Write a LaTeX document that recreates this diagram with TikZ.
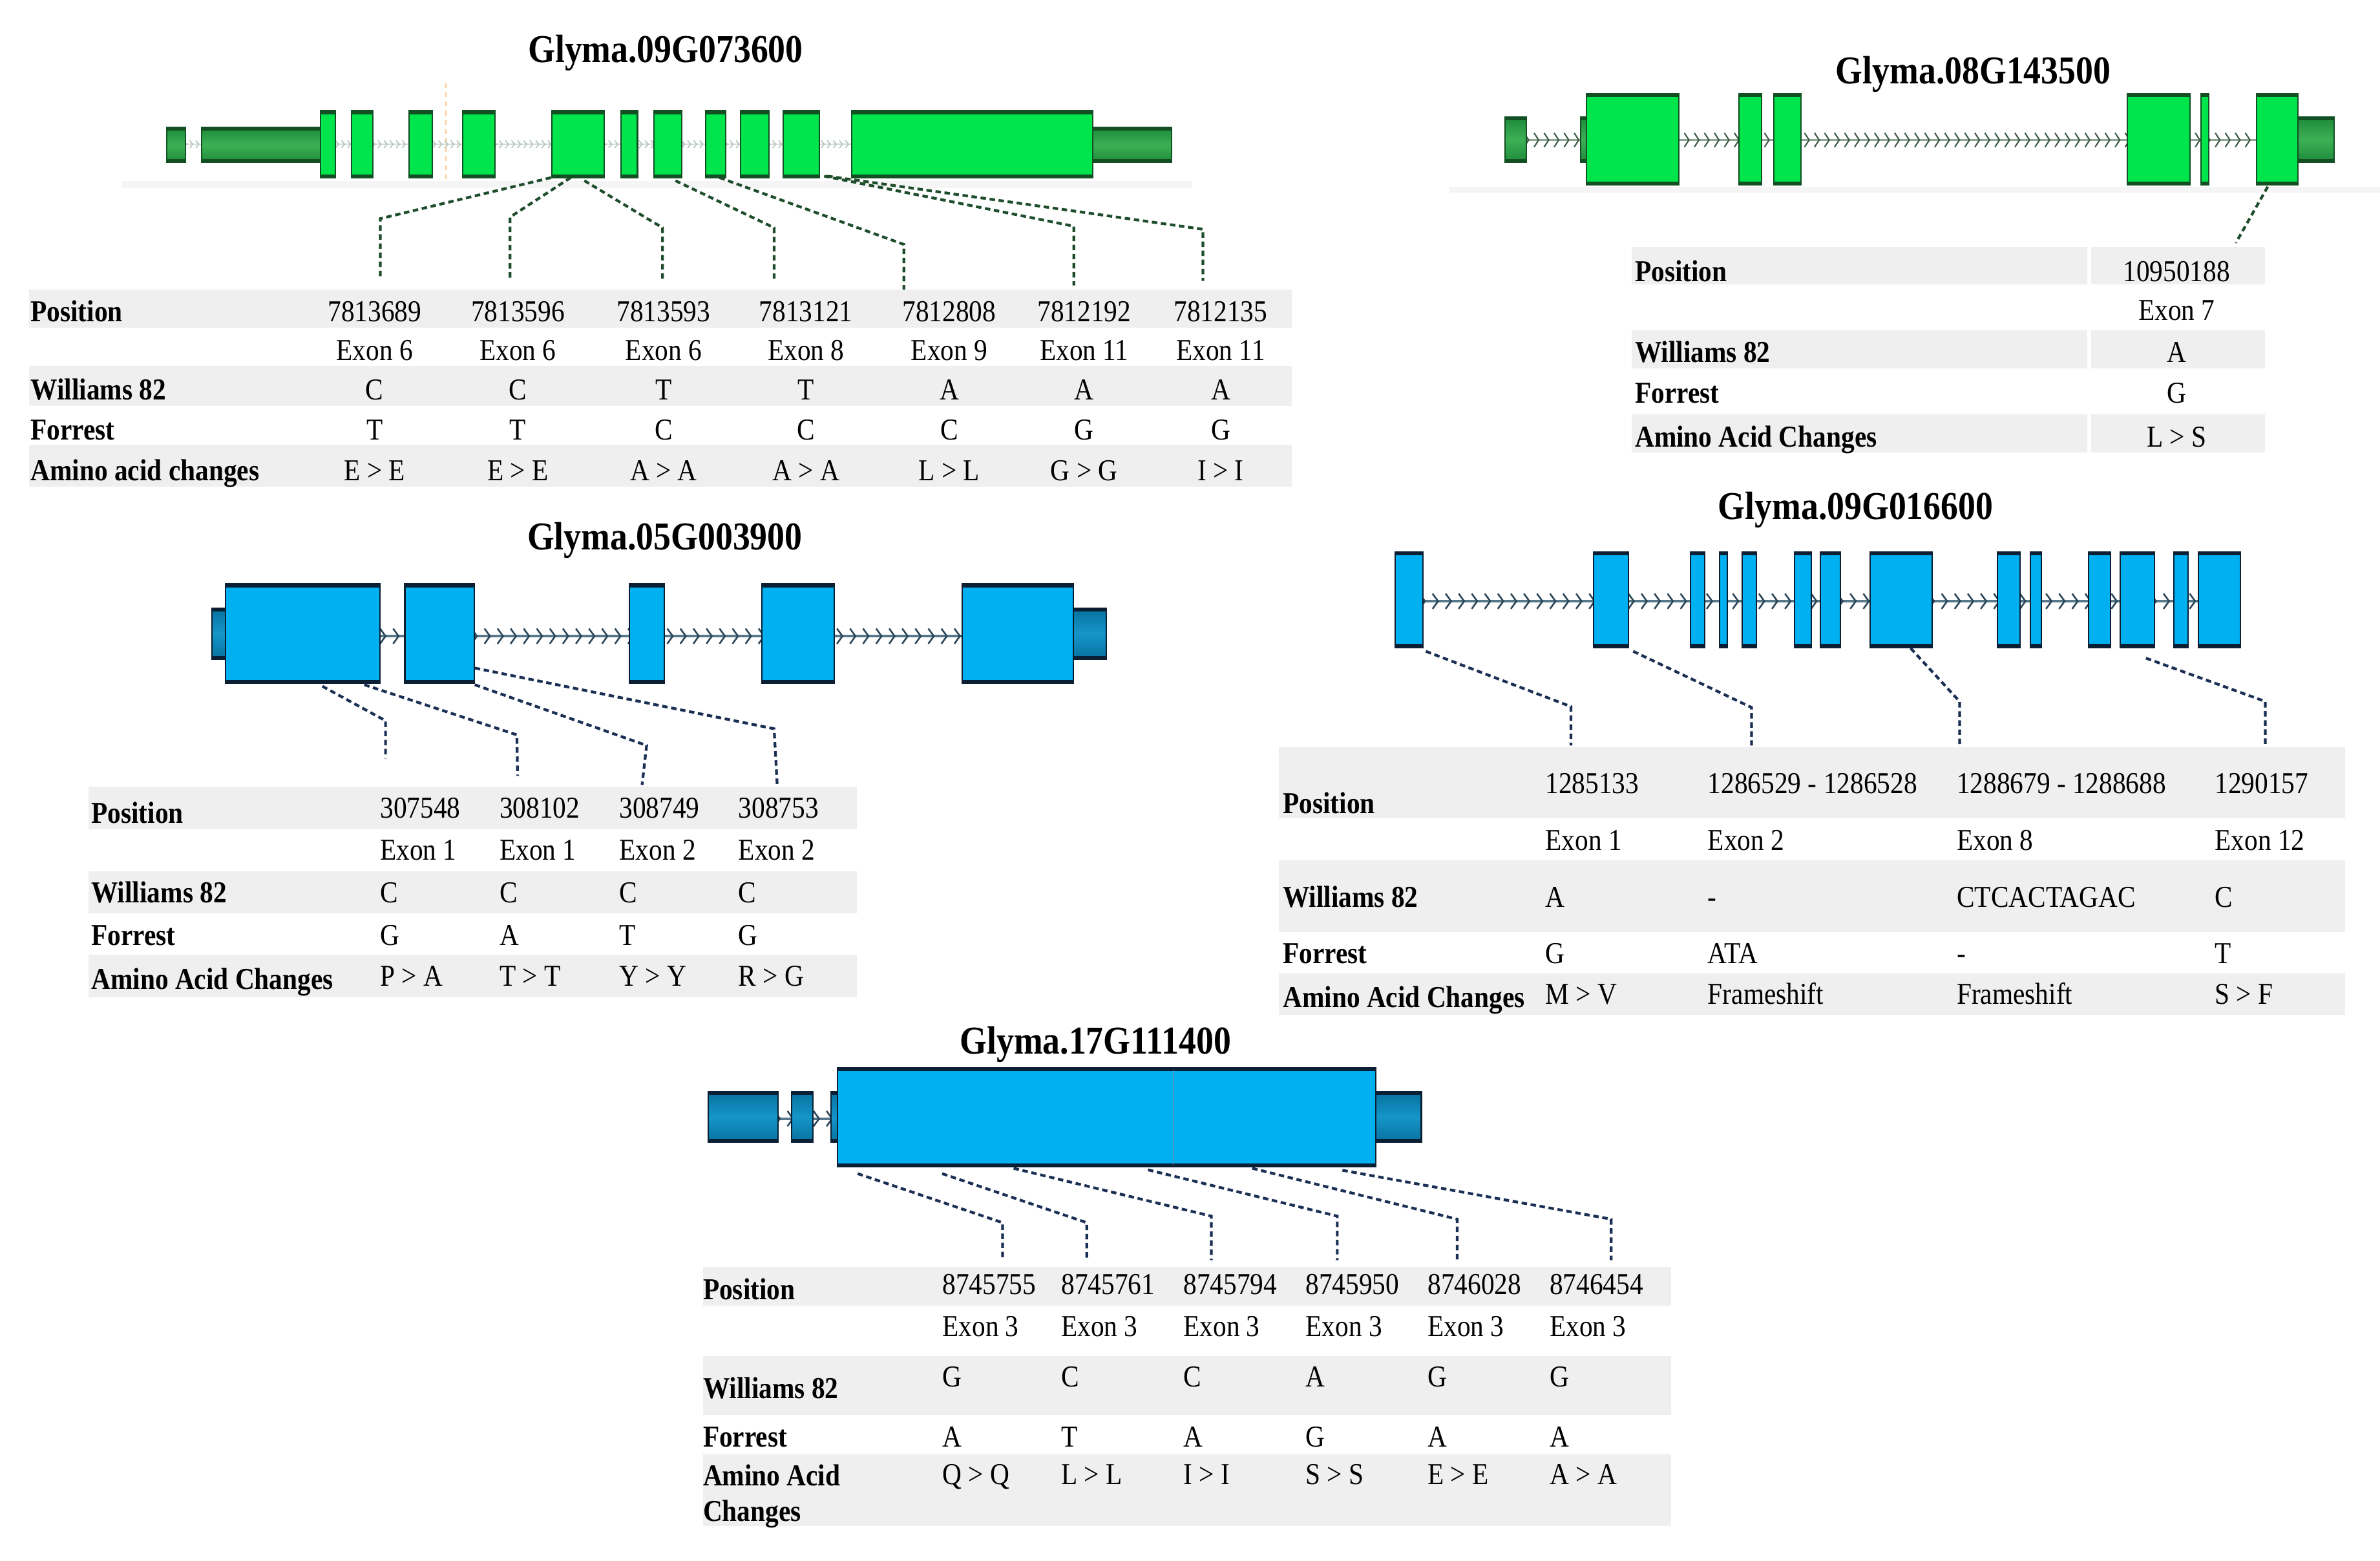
\documentclass[tikz,border=0pt]{standalone}
\usepackage{fontspec}
\setmainfont{Liberation Serif}[FakeStretch=0.88]
\usetikzlibrary{decorations.markings}
\definecolor{gfillc}{HTML}{00E44C}
\definecolor{gdarkc}{HTML}{124F22}
\definecolor{gutrc}{HTML}{1D8A3A}
\definecolor{gutrm}{HTML}{3DB055}
\definecolor{bfillc}{HTML}{00B0F0}
\definecolor{bdarkc}{HTML}{0A1F33}
\definecolor{butrc}{HTML}{07719F}
\definecolor{butrm}{HTML}{1595C8}
\definecolor{gconn}{HTML}{1E4D2B}
\definecolor{bconn}{HTML}{1B2F55}
\definecolor{bandc}{HTML}{EFEFEF}
\definecolor{chevb}{HTML}{2A4658}
\definecolor{lineb}{HTML}{56788A}
\definecolor{chevg}{HTML}{3D5A45}
\definecolor{lineg}{HTML}{8FA595}
\definecolor{chevl}{HTML}{A9C2AE}
\newcommand\exbox[6]{%
  \path[#5] (#1,#3) rectangle (#2,#4);
  \draw[#6, line width=0.9pt] (#1,#3) rectangle (#2,#4);
  \draw[#6, line width=2.2pt] (#1,#3+1.1) -- (#2,#3+1.1) (#1,#4-1.1) -- (#2,#4-1.1);
}
\tikzset{
  gex/.style={fill=gfillc},
  gutr/.style={top color=gutrc, bottom color=gutrc, middle color=gutrm},
  bex/.style={fill=bfillc},
  butr/.style={top color=butrc, bottom color=butrc, middle color=butrm},
  gdash/.style={draw=gconn, dash pattern=on 3.6pt off 2.4pt, line width=1.8pt},
  bdash/.style={draw=bconn, dash pattern=on 3.6pt off 2.4pt, line width=1.8pt},
  intronL/.style={draw=gray!30, line width=1pt, postaction={decorate, decoration={markings,
     mark=between positions 0 and 1 step 4pt with {\draw[chevl, line width=0.6pt] (-1pt,-2.5pt) -- (1pt,0pt) -- (-1pt,2.5pt);}}}},
  intronG/.style={draw=lineg, line width=1.4pt, postaction={decorate, decoration={markings,
     mark=between positions 0 and 1 step 6.6pt with {\draw[chevg, line width=0.9pt] (-1.5pt,-4.6pt) -- (1.5pt,0pt) -- (-1.5pt,4.6pt);}}}},
  intronB/.style={draw=lineb, line width=1.8pt, postaction={decorate, decoration={markings,
     mark=between positions 0 and 1 step 8.6pt with {\draw[chevb, line width=1.1pt] (-1.8pt,-5pt) -- (1.8pt,0pt) -- (-1.8pt,5pt);}}}},
  lab/.style={anchor=base west, inner sep=0pt, font=\fontsize{20}{24}\selectfont\bfseries},
  valc/.style={anchor=base, inner sep=0pt, font=\fontsize{20}{24}\selectfont},
  vall/.style={anchor=base west, inner sep=0pt, font=\fontsize{20}{24}\selectfont},
  ttl/.style={anchor=base, inner sep=0pt, font=\fontsize{26}{30}\selectfont\bfseries},
}
\begin{document}
\begin{tikzpicture}[x=1pt,y=-1pt]
\useasboundingbox (0,0) rectangle (1568,1028);
\fill[white] (0,0) rectangle (1568,1028);

%% ================= Panel 1: Glyma.09G073600 =================
\node[ttl] (title1) at (438.5,41) {Glyma.09G073600};
\fill[gray!8] (80,119) rectangle (785,124);
\draw[orange!45, dashed, line width=0.6pt] (293.7,55) -- (293.7,120);
\draw[intronL] (122,95) -- (720,95);
\exbox{110}{122}{84}{107}{gutr}{gdarkc}
\exbox{133}{211}{84}{107}{gutr}{gdarkc}
\exbox{720}{772}{84}{107}{gutr}{gdarkc}
\foreach \a/\b in {211/221, 231.6/245.6, 269.5/285, 305/326, 363.7/398, 409/420, 431/449, 465/478, 488/506.6, 516/540, 561/720}
  {\exbox{\a}{\b}{73}{117}{gex}{gdarkc}}
% connectors
\foreach \i/\sx/\sy/\kx/\ky/\ey in {1/363/117/250.5/144/182, 2/376/117/336/143/184, 3/385/119/436.5/150/185, 4/445/119/510/150/185, 5/474/117/595.5/161/198, 6/543/116/707.5/149/188, 7/545/116/792.5/151/185}{
  \coordinate (ga\i s) at (\sx,\sy);
  \coordinate (ga\i k) at (\kx,\ky);
  \coordinate (ga\i e) at (\kx,\ey);
  \draw[gdash] (ga\i s) -- (ga\i k) -- (ga\i e);
}
% table 1
\fill[bandc] (19,190.8) rectangle (851,215.7);
\fill[bandc] (19,241) rectangle (851,267.5);
\fill[bandc] (19,293) rectangle (851,320.6);
\node[lab] (ta-pos) at (20,211.6) {Position};
\node[lab] (ta-w82) at (20,263.4) {Williams 82};
\node[lab] (ta-for) at (20,289.6) {Forrest};
\node[lab] (ta-aac) at (20,316.6) {Amino acid changes};
\foreach \cx/\pa/\pb/\pc/\pd/\pe [count=\i] in {
246.8/7813689/Exon 6/C/T/E > E,
341.2/7813596/Exon 6/C/T/E > E,
437.2/7813593/Exon 6/T/C/A > A,
531/7813121/Exon 8/T/C/A > A,
625.4/7812808/Exon 9/A/C/L > L,
714.3/7812192/Exon 11/A/G/G > G,
804.2/7812135/Exon 11/A/G/I > I}{
  \node[valc] (ta\i p) at (\cx,211.6) {\pa};
  \node[valc] (ta\i x) at (\cx,237.2) {\pb};
  \node[valc] (ta\i w) at (\cx,263.4) {\pc};
  \node[valc] (ta\i f) at (\cx,289.6) {\pd};
  \node[valc] (ta\i a) at (\cx,316.6) {\pe};
}

%% ================= Panel 2: Glyma.08G143500 =================
\node[ttl] (title2) at (1300,55.3) {Glyma.08G143500};
\fill[gray!8] (955,123) rectangle (1568,127);
\draw[intronG] (1005.6,92.2) -- (1487,92.2);
\exbox{991.5}{1005.6}{77}{107}{gutr}{gdarkc}
\exbox{1041.5}{1046}{77}{107}{gutr}{gdarkc}
\exbox{1514}{1537.7}{77}{107}{gutr}{gdarkc}
\foreach \a/\b in {1045/1106, 1145.6/1160.5, 1168.6/1186.5, 1401.5/1443, 1450/1455, 1486.6/1514}
  {\exbox{\a}{\b}{61.8}{121.8}{gex}{gdarkc}}
\coordinate (gb1s) at (1494,123);
\coordinate (gb1e) at (1473,160);
\draw[gdash] (gb1s) -- (gb1e);
% table 2
\foreach \ya/\yb in {162.5/187.3, 217.4/242.7, 272.9/298}{
  \fill[bandc] (1075,\ya) rectangle (1375,\yb);
  \fill[bandc] (1377.5,\ya) rectangle (1492,\yb);
}
\node[lab] (tb-pos) at (1077,185.4) {Position};
\node[lab] (tb-w82) at (1077,238.6) {Williams 82};
\node[lab] (tb-for) at (1077,265.6) {Forrest};
\node[lab] (tb-aac) at (1077,294.6) {Amino Acid Changes};
\node[valc] (tb1p) at (1434,185.4) {10950188};
\node[valc] (tb1x) at (1434,210.9) {Exon 7};
\node[valc] (tb1w) at (1434,238.6) {A};
\node[valc] (tb1f) at (1434,265.6) {G};
\node[valc] (tb1a) at (1434,294.6) {L > S};

%% ================= Panel 3: Glyma.05G003900 =================
\node[ttl] (title3) at (438,362) {Glyma.05G003900};
\draw[intronB] (149,419) -- (707,419);
\exbox{139.5}{149.4}{400.6}{434.2}{butr}{bdarkc}
\exbox{707}{729}{400.6}{434.2}{butr}{bdarkc}
\foreach \a/\b in {148.6/250.2, 266.7/312.4, 414.8/437.6, 501.8/549.5, 633.8/707}
  {\exbox{\a}{\b}{384.6}{450}{bex}{bdarkc}}
\foreach \i/\sx/\sy/\kx/\ky/\ex/\ey in {1/212.4/452/254/474.7/254/499.5, 2/240/451/340.5/484/341/511, 3/312.8/451/426/491/423/517, 4/312.8/440/510/480/512/516.5}{
  \coordinate (gc\i s) at (\sx,\sy);
  \coordinate (gc\i k) at (\kx,\ky);
  \coordinate (gc\i e) at (\ex,\ey);
  \draw[bdash] (gc\i s) -- (gc\i k) -- (gc\i e);
}
% table 3
\fill[bandc] (58.5,518) rectangle (564.5,546.3);
\fill[bandc] (58.5,574) rectangle (564.5,601.6);
\fill[bandc] (58.5,629) rectangle (564.5,657);
\node[lab] (tc-pos) at (60,542) {Position};
\node[lab] (tc-w82) at (60,594.6) {Williams 82};
\node[lab] (tc-for) at (60,622.6) {Forrest};
\node[lab] (tc-aac) at (60,651.6) {Amino Acid Changes};
\foreach \cx/\pa/\pb/\pc/\pd/\pe [count=\i] in {
250.3/307548/Exon 1/C/G/P > A,
329/308102/Exon 1/C/A/T > T,
407.9/308749/Exon 2/C/T/Y > Y,
486.4/308753/Exon 2/C/G/R > G}{
  \node[vall] (tc\i p) at (\cx,538.6) {\pa};
  \node[vall] (tc\i x) at (\cx,566.4) {\pb};
  \node[vall] (tc\i w) at (\cx,594.6) {\pc};
  \node[vall] (tc\i f) at (\cx,622.6) {\pd};
  \node[vall] (tc\i a) at (\cx,649.6) {\pe};
}

%% ================= Panel 4: Glyma.09G016600 =================
\node[ttl] (title4) at (1222.5,342) {Glyma.09G016600};
\draw[intronB] (937,396) -- (1449,396);
\foreach \a/\b in {919/937.5, 1050/1073, 1113.7/1123, 1132.8/1138, 1147.7/1157, 1182.4/1193.4, 1199.4/1212.6, 1232.2/1272.9, 1316/1331, 1337.5/1345, 1376/1390.6, 1397/1419.4, 1432.3/1441.6, 1448.2/1475.9}
  {\exbox{\a}{\b}{363.6}{426.4}{bex}{bdarkc}}
\foreach \i/\sx/\sy/\kx/\ky/\ey in {1/939.4/429/1035/465.4/491, 2/1076/429/1154/466/491, 3/1258.8/427/1291/462/491, 4/1413.8/433.5/1492.4/462/491}{
  \coordinate (gd\i s) at (\sx,\sy);
  \coordinate (gd\i k) at (\kx,\ky);
  \coordinate (gd\i e) at (\kx,\ey);
  \draw[bdash] (gd\i s) -- (gd\i k) -- (gd\i e);
}
% table 4
\fill[bandc] (842.7,492) rectangle (1545,539);
\fill[bandc] (842.7,566.5) rectangle (1545,613.7);
\fill[bandc] (842.7,641) rectangle (1545,668.6);
\node[lab] (td-pos) at (845,535.9) {Position};
\node[lab] (td-w82) at (845,597.6) {Williams 82};
\node[lab] (td-for) at (845,634.6) {Forrest};
\node[lab] (td-aac) at (845,663.6) {Amino Acid Changes};
\foreach \cx/\pa/\pb/\pc/\pd/\pe [count=\i] in {
1018/1285133/Exon 1/A/G/M > V,
1125/1286529 - 1286528/Exon 2/-/ATA/Frameshift,
1289/1288679 - 1288688/Exon 8/CTCACTAGAC/-/Frameshift,
1459/1290157/Exon 12/C/T/S > F}{
  \node[vall] (td\i p) at (\cx,522.4) {\pa};
  \node[vall] (td\i x) at (\cx,560) {\pb};
  \node[vall] (td\i w) at (\cx,597.6) {\pc};
  \node[vall] (td\i f) at (\cx,634.6) {\pd};
  \node[vall] (td\i a) at (\cx,661.4) {\pe};
}

%% ================= Panel 5: Glyma.17G111400 =================
\node[ttl] (title5) at (721.7,694) {Glyma.17G111400};
\draw[intronB] (512,736.8) -- (552,736.8);
\exbox{466.6}{512.4}{719.2}{752.4}{butr}{bdarkc}
\exbox{521.7}{535.6}{719.2}{752.4}{butr}{bdarkc}
\exbox{547.4}{551.7}{719.2}{752.4}{butr}{bdarkc}
\exbox{906.4}{936.4}{719.2}{752.4}{butr}{bdarkc}
\exbox{551.7}{906.4}{703.4}{768.4}{bex}{bdarkc}
\draw[bdarkc!55, line width=0.5pt] (773.3,704.5) -- (773.3,767.3);
\foreach \i/\sx/\sy/\kx/\ky in {1/565/773/660.5/805.3, 2/620.7/773/716/805.3, 3/667.8/769.5/798/801, 4/756.3/770.5/881/801, 5/825/769.5/960/803, 6/884.4/770.8/1061.5/803}{
  \coordinate (ge\i s) at (\sx,\sy);
  \coordinate (ge\i k) at (\kx,\ky);
  \coordinate (ge\i e) at (\kx,830);
  \draw[bdash] (ge\i s) -- (ge\i k) -- (ge\i e);
}
% table 5
\fill[bandc] (463,834.4) rectangle (1101,860);
\fill[bandc] (463,893) rectangle (1101,932);
\fill[bandc] (463,958) rectangle (1101,1005);
\node[lab] (te-pos) at (463,855.9) {Position};
\node[lab] (te-w82) at (463,921.2) {Williams 82};
\node[lab] (te-for) at (463,953.1) {Forrest};
\node[lab] (te-aac) at (463,978.6) {Amino Acid};
\node[lab] (te-chg) at (463,1002) {Changes};
\foreach \cx/\pa/\pb/\pc/\pd/\pe [count=\i] in {
620.7/8745755/Exon 3/G/A/Q > Q,
699/8745761/Exon 3/C/T/L > L,
779.5/8745794/Exon 3/C/A/I > I,
860/8745950/Exon 3/A/G/S > S,
940.4/8746028/Exon 3/G/A/E > E,
1020.8/8746454/Exon 3/G/A/A > A}{
  \node[vall] (te\i p) at (\cx,852.6) {\pa};
  \node[vall] (te\i x) at (\cx,880) {\pb};
  \node[vall] (te\i w) at (\cx,913.4) {\pc};
  \node[vall] (te\i f) at (\cx,953.1) {\pd};
  \node[vall] (te\i a) at (\cx,977.6) {\pe};
}
\end{tikzpicture}
\end{document}
